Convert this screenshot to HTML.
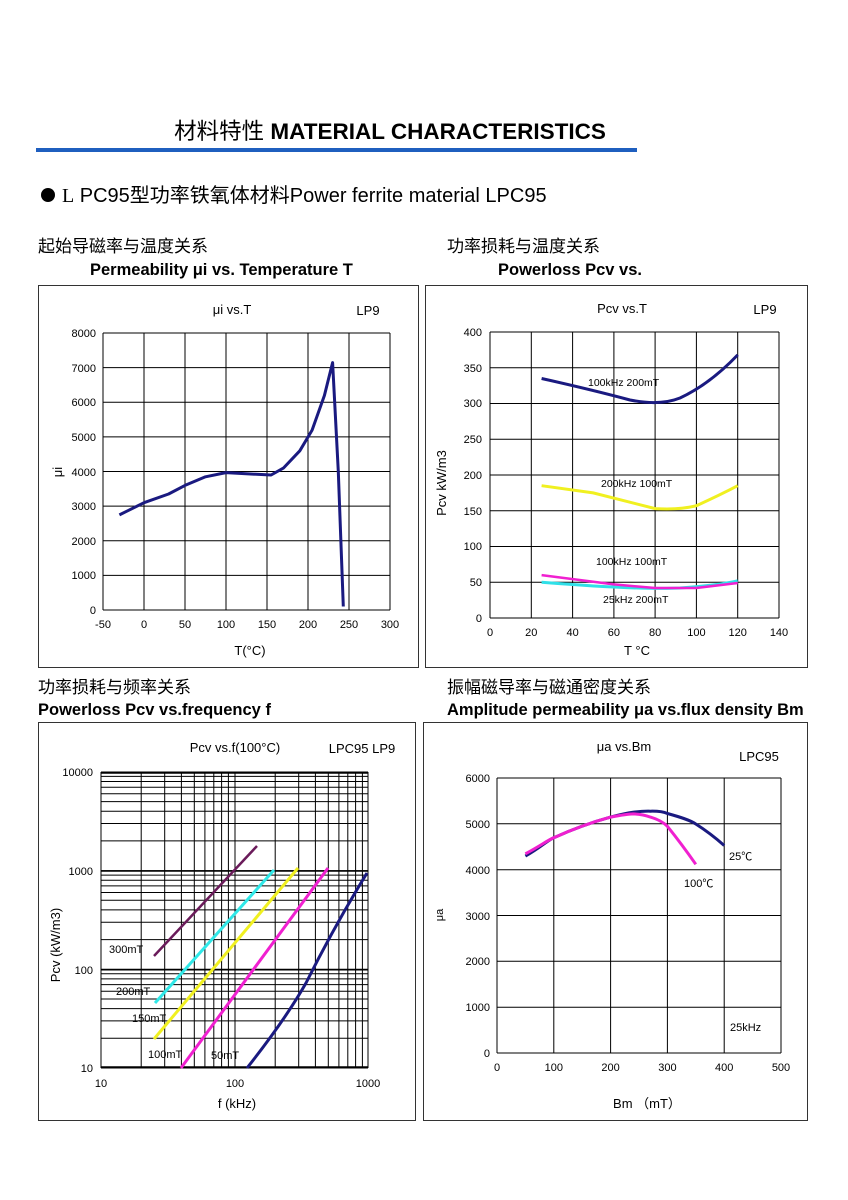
<!DOCTYPE html>
<html><head><meta charset="utf-8"><style>
html,body{margin:0;padding:0;background:#fff;}
svg{display:block;}
text{font-family:"Liberation Sans","Noto Sans CJK SC",sans-serif;fill:#000;}
</style></head><body>
<svg width="848" height="1200" viewBox="0 0 848 1200" xmlns="http://www.w3.org/2000/svg">
<text x="390" y="139" font-size="22.5" text-anchor="middle"><tspan>材料特性 </tspan><tspan font-weight="bold"> MATERIAL CHARACTERISTICS</tspan></text>
<rect x="36" y="148" width="601" height="4" fill="#1f5fbf"/>
<circle cx="48" cy="195" r="7" fill="#000"/>
<text x="62" y="202" font-size="20"><tspan font-family="Liberation Serif">L</tspan> PC95型功率铁氧体材料Power ferrite material LPC95</text>

<text x="38" y="252" font-size="17">起始导磁率与温度关系</text>
<text x="90" y="275" font-size="16.5" font-weight="bold">Permeability μi vs. Temperature T</text>
<text x="447" y="252" font-size="17">功率损耗与温度关系</text>
<text x="498" y="275" font-size="16.5" font-weight="bold">Powerloss Pcv vs.</text>
<text x="38" y="693" font-size="17">功率损耗与频率关系</text>
<text x="38" y="715" font-size="16.5" font-weight="bold">Powerloss Pcv vs.frequency f</text>
<text x="447" y="693" font-size="17">振幅磁导率与磁通密度关系</text>
<text x="447" y="715" font-size="16.5" font-weight="bold">Amplitude permeability μa vs.flux density Bm</text>

<!-- chart 1 -->
<rect x="38.5" y="285.5" width="380" height="382" fill="none" stroke="#333" stroke-width="1"/>
<g stroke="#000" stroke-width="1" fill="none">
<path d="M103 333V610M144 333V610M185 333V610M226 333V610M267 333V610M308 333V610M349 333V610M390 333V610"/>
<path d="M103 610H390M103 575.4H390M103 540.75H390M103 506.1H390M103 471.5H390M103 436.9H390M103 402.25H390M103 367.6H390M103 333H390"/>
</g>
<path d="M119.4 514.9 L144 502.7 L168.6 494 L185 485.4 L205.5 476.8 L226 472.6 L250.6 474 L271.1 475 L283.4 468.1 L299.8 450.8 L312.1 430.1 L324.4 395.5 L332.6 362.6 L338.3 471.6 L343.3 606.5" fill="none" stroke="#1a1a80" stroke-width="3" stroke-linejoin="round"/>
<g font-size="11" text-anchor="end">
<text x="96" y="614">0</text><text x="96" y="579">1000</text><text x="96" y="545">2000</text><text x="96" y="510">3000</text><text x="96" y="476">4000</text><text x="96" y="441">5000</text><text x="96" y="406">6000</text><text x="96" y="372">7000</text><text x="96" y="337">8000</text>
</g>
<g font-size="11" text-anchor="middle">
<text x="103" y="628">-50</text><text x="144" y="628">0</text><text x="185" y="628">50</text><text x="226" y="628">100</text><text x="267" y="628">150</text><text x="308" y="628">200</text><text x="349" y="628">250</text><text x="390" y="628">300</text>
</g>
<text x="250" y="655" font-size="13" text-anchor="middle">T(°C)</text>
<text x="232" y="314" font-size="13" text-anchor="middle">μi vs.T</text>
<text x="368" y="315" font-size="13" text-anchor="middle">LP9</text>
<text x="62" y="472" font-size="13" text-anchor="middle" transform="rotate(-90 62 472)">μi</text>

<!-- chart 2 -->
<rect x="425.5" y="285.5" width="382" height="382" fill="none" stroke="#333" stroke-width="1"/>
<g stroke="#000" stroke-width="1" fill="none">
<path d="M490 332V618M531.3 332V618M572.6 332V618M613.9 332V618M655.1 332V618M696.4 332V618M737.7 332V618M779 332V618"/>
<path d="M490 618H779M490 582.25H779M490 546.5H779M490 510.75H779M490 475H779M490 439.25H779M490 403.5H779M490 367.75H779M490 332H779"/>
</g>
<path d="M541.6 378.5 Q593 390 630 400 Q660 406 680 398 Q710 384 737.7 354.9" fill="none" stroke="#1a1a80" stroke-width="3"/>
<path d="M541.6 485.7 L593.2 492.9 L655.1 508.6 Q680 510 696.4 505.7 Q720 495 737.7 485.7" fill="none" stroke="#f0f020" stroke-width="3"/>
<path d="M541.6 582.2 Q640 590 680 588 Q720 585 737.7 580.8" fill="none" stroke="#30e0e8" stroke-width="3"/>
<path d="M541.6 575.1 L613.8 584.4 L655.1 588 L696.4 588 L737.7 583" fill="none" stroke="#f020d0" stroke-width="2.5"/>
<g font-size="11" text-anchor="end">
<text x="482" y="622">0</text><text x="482" y="586">50</text><text x="482" y="550">100</text><text x="482" y="515">150</text><text x="482" y="479">200</text><text x="482" y="443">250</text><text x="482" y="407">300</text><text x="482" y="372">350</text><text x="482" y="336">400</text>
</g>
<g font-size="11" text-anchor="middle">
<text x="490" y="636">0</text><text x="531.3" y="636">20</text><text x="572.6" y="636">40</text><text x="613.9" y="636">60</text><text x="655.1" y="636">80</text><text x="696.4" y="636">100</text><text x="737.7" y="636">120</text><text x="779" y="636">140</text>
</g>
<g font-size="10.5">
<text x="588" y="386">100kHz 200mT</text><text x="601" y="487">200kHz 100mT</text><text x="596" y="565">100kHz 100mT</text><text x="603" y="603">25kHz 200mT</text>
</g>
<text x="637" y="655" font-size="13" text-anchor="middle">T °C</text>
<text x="622" y="313" font-size="13" text-anchor="middle">Pcv vs.T</text>
<text x="765" y="314" font-size="13" text-anchor="middle">LP9</text>
<text x="446" y="483" font-size="13" text-anchor="middle" transform="rotate(-90 446 483)">Pcv kW/m3</text>

<!-- chart 3 -->
<rect x="38.5" y="722.5" width="377" height="398" fill="none" stroke="#333" stroke-width="1"/>
<g stroke="#000" stroke-width="1" fill="none">
<path d="M101 772V1068M141.2 772V1068M164.7 772V1068M181.4 772V1068M194.3 772V1068M204.9 772V1068M213.8 772V1068M221.6 772V1068M228.4 772V1068M235 772V1068M275.2 772V1068M298.7 772V1068M315.4 772V1068M328.3 772V1068M338.9 772V1068M347.8 772V1068M355.6 772V1068M362.4 772V1068M368 772V1068"/>
<path d="M101 1068H368M101 1038.3H368M101 1020.9H368M101 1008.6H368M101 999H368M101 991.2H368M101 984.6H368M101 978.9H368M101 973.8H368M101 969.3H368M101 939.6H368M101 922.2H368M101 909.9H368M101 900.3H368M101 892.5H368M101 885.9H368M101 880.2H368M101 875.1H368M101 870.6H368M101 840.9H368M101 823.5H368M101 811.2H368M101 801.6H368M101 793.8H368M101 787.2H368M101 781.5H368M101 776.4H368M101 772H368"/>
<path d="M101 1067H368M101 969.8H368M101 871H368M101 773H368" stroke-width="1.5"/>
</g>
<path d="M154 956L257 846" stroke="#6a1b5a" stroke-width="2.5"/>
<path d="M155 1003L274 870" stroke="#30e8e8" stroke-width="3"/>
<path d="M154 1039L298 868" stroke="#f0f020" stroke-width="3"/>
<path d="M181 1068L328 868" stroke="#f020d0" stroke-width="3"/>
<path d="M247 1068Q285 1020 306 983Q335 925 367 873" fill="none" stroke="#1a1a80" stroke-width="3"/>
<g font-size="11" text-anchor="end">
<text x="93" y="1072">10</text><text x="93" y="974">100</text><text x="93" y="875">1000</text><text x="93" y="776">10000</text>
</g>
<g font-size="11" text-anchor="middle">
<text x="101" y="1087">10</text><text x="235" y="1087">100</text><text x="368" y="1087">1000</text>
</g>
<g font-size="11">
<text x="109" y="953">300mT</text><text x="116" y="995">200mT</text><text x="132" y="1022">150mT</text><text x="148" y="1058">100mT</text><text x="211" y="1059">50mT</text>
</g>
<text x="237" y="1108" font-size="13" text-anchor="middle">f (kHz)</text>
<text x="235" y="752" font-size="13" text-anchor="middle">Pcv vs.f(100°C)</text>
<text x="362" y="753" font-size="13" text-anchor="middle">LPC95  LP9</text>
<text x="60" y="945" font-size="13" text-anchor="middle" transform="rotate(-90 60 945)">Pcv (kW/m3)</text>

<!-- chart 4 -->
<rect x="423.5" y="722.5" width="384" height="398" fill="none" stroke="#333" stroke-width="1"/>
<g stroke="#000" stroke-width="1" fill="none">
<path d="M497 778V1053M553.8 778V1053M610.6 778V1053M667.4 778V1053M724.2 778V1053M781 778V1053"/>
<path d="M497 1053H781M497 1007.2H781M497 961.3H781M497 915.5H781M497 869.7H781M497 823.8H781M497 778H781"/>
</g>
<path d="M525.4 856.1 C540 848 548 840 553.8 837.7 C580 826 600 820 610.6 817.1 C630 812 640 811 650.4 811.2 C660 811 664 812 667.4 813.5 C680 817 690 820 695.8 824 C710 833 718 840 724.2 845.5" fill="none" stroke="#1a1a80" stroke-width="3"/>
<path d="M525.4 853.8 C540 846 548 840 553.8 837.7 C580 826 600 820 610.6 817.1 C622 815 628 814 633.3 813.9 C640 814 645 815 650.4 817.1 C660 820 664 823 667.4 826.3 C680 842 690 856 695.8 864.3" fill="none" stroke="#f020d0" stroke-width="3"/>
<g font-size="11" text-anchor="end">
<text x="490" y="1057">0</text><text x="490" y="1011">1000</text><text x="490" y="965">2000</text><text x="490" y="920">3000</text><text x="490" y="874">4000</text><text x="490" y="828">5000</text><text x="490" y="782">6000</text>
</g>
<g font-size="11" text-anchor="middle">
<text x="497" y="1071">0</text><text x="553.8" y="1071">100</text><text x="610.6" y="1071">200</text><text x="667.4" y="1071">300</text><text x="724.2" y="1071">400</text><text x="781" y="1071">500</text>
</g>
<g font-size="11">
<text x="729" y="860">25℃</text><text x="684" y="887">100℃</text><text x="730" y="1031">25kHz</text>
</g>
<text x="647" y="1108" font-size="13" text-anchor="middle">Bm （mT）</text>
<text x="624" y="751" font-size="13" text-anchor="middle">μa vs.Bm</text>
<text x="759" y="761" font-size="13" text-anchor="middle">LPC95</text>
<text x="443" y="915" font-size="11" text-anchor="middle" transform="rotate(-90 443 915)">μa</text>
</svg>
</body></html>
